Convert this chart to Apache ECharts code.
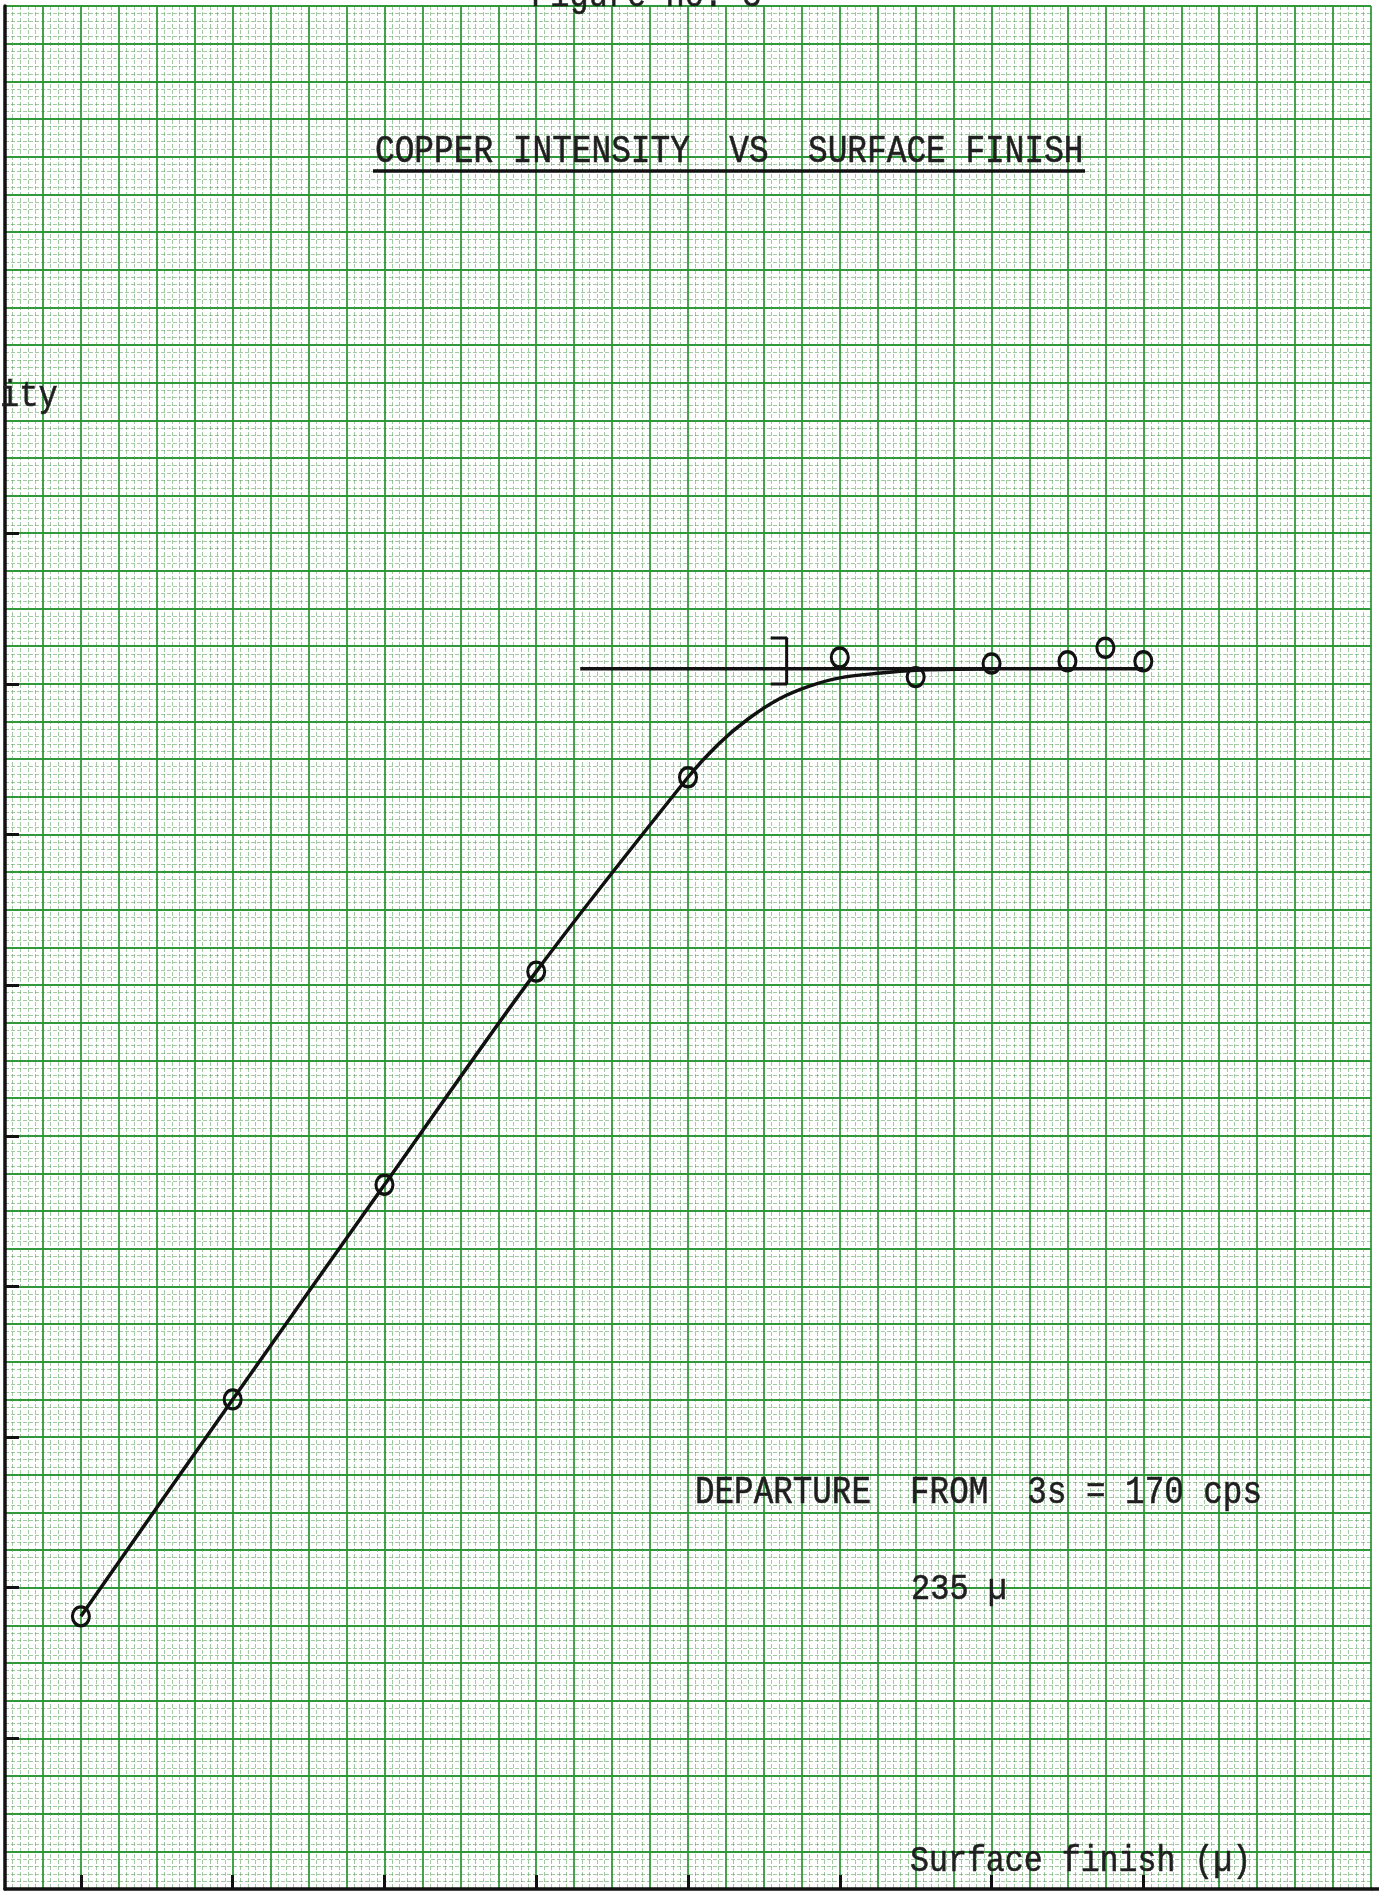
<!DOCTYPE html>
<html>
<head>
<meta charset="utf-8">
<script src="https://cdn.jsdelivr.net/npm/echarts@6/dist/echarts.min.js"></script>
<style>
  html, body { margin: 0; padding: 0; background: #ffffff; }
  #chart { width: 1379px; height: 1891px; }
</style>
</head>
<body>
<div id="chart"></div>
<script>
// Measured copper intensity against surface finish (one axis step per tick mark)
const finish    = [0, 1, 2, 3, 4, 5, 5.5, 6, 6.5, 6.75, 7];
const intensity = [1.81, 3.25, 4.675, 6.09, 7.38, 8.175, 8.045, 8.135, 8.15, 8.24, 8.15];

// Hand-drawn fitted curve
const curveX = [0, 1, 2, 3, 4, 4.2, 4.4, 4.6, 4.8, 5.0, 5.25, 5.5, 6.0];
const curveY = [1.81, 3.25, 4.675, 6.09, 7.38, 7.6, 7.77, 7.9, 7.985, 8.04, 8.07, 8.09, 8.10];

// Plateau level line
const plateauX = [3.29, 7.0];
const plateauY = [8.10, 8.10];

// Bracket marking the 3s band
const bracketX = [4.545, 4.65, 4.65, 4.545];
const bracketY = [8.305, 8.305, 8.0, 8.0];

// Tick marks on the axes (unlabelled)
const xTicks = [0, 1, 2, 3, 4, 5, 6, 7];
const yTicks = [1, 2, 3, 4, 5, 6, 7, 8, 9];

// Typed annotations
const titleText   = 'COPPER INTENSITY  VS  SURFACE FINISH';
const figureText  = 'Figure no. 3';
const yNameText   = 'ity';
const noteText    = 'DEPARTURE  FROM  3s = 170 cps';
const noteValue   = '235 \u00b5';
const xNameText   = 'Surface finish (\u00b5)';

const pair = (xs, ys) => xs.map((x, i) => [x, ys[i]]);

const MAJOR = '#2f9838';
const MINOR = 'rgba(70,150,70,0.5)';
const INK = '#111111';
const TYPE = '#1f1f1f';
const MONO = '"Liberation Mono", "DejaVu Sans Mono", monospace';

const chart = echarts.init(document.getElementById('chart'), null, { renderer: 'canvas' });

function paperAxis(min, max) {
  return {
    type: 'value', min: min, max: max, interval: 0.25,
    axisLine: { show: false }, axisTick: { show: false }, axisLabel: { show: false },
    splitLine: { show: true, lineStyle: { color: MAJOR, width: 1.8 } },
    minorTick: { show: false, splitNumber: 5 },
    minorSplitLine: { show: true, lineStyle: { color: MINOR, width: 1, type: [4, 2] } }
  };
}
function inkAxis(min, max, pos, ticks) {
  return {
    type: 'value', min: min, max: max, position: pos,
    axisLine: { show: true, onZero: false, lineStyle: { color: INK, width: 3.5 } },
    axisTick: { show: true, inside: true, length: 14, customValues: ticks,
                lineStyle: { color: INK, width: 3 } },
    axisLabel: { show: false },
    splitLine: { show: false }
  };
}

const text = (s, x, y, size) => ({
  type: 'text', x: x, y: y, z: 10, scaleY: 1.18,
  style: { text: s, font: size + 'px ' + MONO, fill: TYPE, align: 'left', verticalAlign: 'middle',
           stroke: TYPE, lineWidth: 0.5 }
});

chart.setOption({
  backgroundColor: '#ffffff',
  animation: false,
  grid: { left: 5, right: 8, top: 6, bottom: 2, containLabel: false },
  xAxis: [paperAxis(-0.5, 8.5), inkAxis(-0.5, 8.5, 'bottom', xTicks)],
  yAxis: [paperAxis(0, 12.5), inkAxis(0, 12.5, 'left', yTicks)],
  series: [
    {
      type: 'line', data: pair(curveX, curveY), smooth: 0.3,
      showSymbol: false, lineStyle: { color: INK, width: 3.5 }, z: 3
    },
    {
      type: 'line', data: pair(plateauX, plateauY),
      showSymbol: false, lineStyle: { color: INK, width: 3.5 }, z: 3
    },
    {
      type: 'line', data: pair(bracketX, bracketY),
      showSymbol: false, lineStyle: { color: INK, width: 3 }, z: 3
    },
    {
      type: 'scatter', data: pair(finish, intensity), symbol: 'circle', symbolSize: [17, 19],
      itemStyle: { color: 'rgba(0,0,0,0)', borderColor: INK, borderWidth: 3.2, opacity: 1 }, z: 4
    }
  ],
  graphic: [
    text(figureText, 531, -4, 32),
    text(titleText, 375, 152, 32.8),
    { type: 'line', z: 10, shape: { x1: 373, y1: 171, x2: 1085, y2: 171 },
      style: { stroke: INK, lineWidth: 3.5 } },
    text(yNameText, 0, 396, 32),
    text(noteText, 695, 1493, 32.6),
    text(noteValue, 911, 1589, 32),
    text(xNameText, 910, 1861, 31.6),
    { type: 'line', z: 10, shape: { x1: 1371, y1: 1889, x2: 1379, y2: 1889 },
      style: { stroke: INK, lineWidth: 3.5 } }
  ]
});
</script>
</body>
</html>
